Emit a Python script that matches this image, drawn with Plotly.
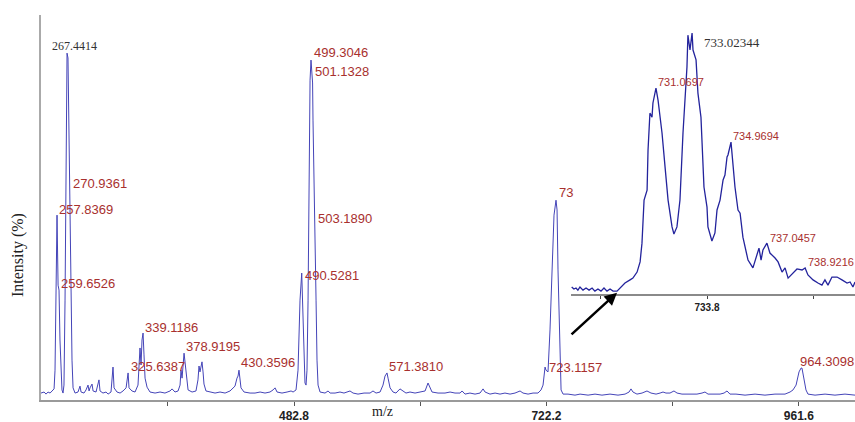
import plotly.graph_objects as go

# ---------------- main spectrum ----------------
main_mz = [242.8, 245.7, 247.6, 249.5, 251.4, 253.3, 255.2, 256.1, 257.1, 258.0, 259.0, 259.9, 260.8, 261.8,
           262.7, 263.7, 264.6, 265.6, 266.5, 267.5, 268.4, 269.4, 270.3, 271.3, 272.2, 273.2, 275.1, 277.9,
           279.8, 280.8, 283.6, 285.5, 287.4, 288.4, 289.3, 291.2, 292.2, 295.0, 297.8, 298.8, 301.6, 304.5,
           306.4, 309.2, 311.1, 312.1, 314.9, 317.8, 320.6, 323.5, 325.4, 326.3, 329.1, 332.0, 334.8, 336.7,
           337.7, 338.6, 339.6, 340.5, 341.5, 343.4, 346.2, 351.0, 355.7, 360.4, 365.2, 367.1, 369.9, 372.8,
           374.7, 375.6, 376.6, 378.5, 379.4, 380.4, 382.3, 386.1, 389.8, 391.7, 392.7, 393.6, 395.5, 396.5,
           397.4, 399.3, 403.1, 407.9, 412.6, 417.4, 422.1, 426.8, 428.7, 429.7, 430.6, 431.6, 432.5, 435.4,
           441.1, 445.8, 450.6, 455.3, 460.0, 462.9, 464.8, 466.7, 471.4, 476.2, 480.0, 481.9, 484.7, 486.6,
           488.5, 490.1, 491.3, 492.3, 493.2, 494.2, 495.1, 496.1, 497.0, 498.0, 498.9, 499.9, 500.4, 500.8,
           501.8, 502.7, 503.7, 504.6, 505.6, 507.5, 512.2, 515.1, 517.0, 521.7, 526.4, 530.2, 535.9, 538.8,
           543.5, 549.2, 554.9, 557.7, 560.6, 564.4, 567.2, 569.1, 571.0, 572.0, 573.9, 576.7, 579.5, 583.3,
           586.2, 589.0, 592.8, 597.6, 602.3, 607.1, 609.9, 611.8, 613.7, 619.4, 626.0, 630.8, 635.5, 640.3,
           642.2, 645.0, 649.7, 654.5, 659.2, 662.1, 664.0, 668.7, 673.5, 678.2, 682.9, 687.7, 692.4, 697.2,
           700.0, 704.8, 709.5, 714.2, 717.1, 719.0, 720.9, 721.8, 723.7, 725.6, 727.5, 729.4, 731.3, 732.3,
           733.2, 734.2, 735.1, 736.1, 738.0, 742.7, 749.3, 754.1, 761.7, 768.3, 774.9, 782.5, 790.1, 796.8,
           800.6, 802.4, 804.3, 808.1, 812.9, 817.6, 821.4, 826.2, 830.0, 832.8, 835.6, 839.4, 843.2, 846.1,
           850.8, 858.4, 865.0, 869.8, 872.6, 875.5, 881.2, 886.9, 890.7, 893.5, 896.3, 902.0, 910.6, 920.1,
           929.5, 939.0, 948.5, 953.3, 956.1, 959.0, 961.8, 963.7, 964.6, 966.5, 968.4, 970.3, 977.0, 986.5,
           995.9, 1005.4, 1014.9]
main_int = [2.0, 2.3, 1.7, 2.3, 2.0, 2.6, 3.2, 8.6, 28.8, 53.3, 33.1, 31.7, 17.3, 5.8,
            2.9, 2.0, 4.3, 28.8, 80.7, 100.0, 98.6, 72.0, 60.5, 31.7, 11.5, 3.5, 2.0, 2.3,
            4.0, 2.3, 2.0, 2.9, 4.3, 2.6, 3.5, 4.6, 2.6, 2.3, 5.8, 2.6, 2.0, 2.3,
            1.7, 2.3, 9.5, 3.5, 2.3, 2.0, 2.6, 3.5, 7.8, 3.5, 2.6, 2.3, 4.3, 15.0,
            10.1, 17.3, 19.3, 13.0, 6.3, 3.7, 2.3, 2.0, 2.3, 2.0, 2.6, 3.2, 2.3, 2.6,
            4.3, 8.6, 6.3, 13.5, 11.0, 6.6, 2.9, 2.3, 2.6, 5.8, 9.8, 8.1, 11.0, 8.1,
            4.6, 2.6, 2.3, 2.0, 2.3, 2.0, 2.6, 4.0, 6.3, 6.9, 8.6, 5.8, 3.5, 2.3,
            2.0, 2.0, 2.3, 2.0, 2.3, 2.9, 3.5, 2.3, 2.0, 2.3, 2.6, 2.3, 2.9, 8.6,
            28.8, 36.6, 25.9, 11.5, 4.9, 4.3, 8.6, 28.8, 72.0, 92.2, 98.0, 93.7, 91.4, 80.7,
            57.6, 49.0, 28.8, 11.5, 4.3, 2.3, 2.0, 2.6, 2.0, 2.0, 2.3, 2.0, 2.6, 2.0,
            1.7, 2.0, 2.0, 2.6, 2.0, 2.3, 4.3, 6.9, 7.8, 6.3, 3.5, 2.3, 2.0, 3.2,
            2.6, 2.0, 2.3, 2.0, 2.3, 2.6, 4.9, 3.5, 2.3, 2.0, 2.0, 2.3, 2.0, 2.0,
            2.6, 1.7, 2.0, 1.7, 2.0, 3.2, 2.3, 1.7, 2.0, 1.7, 2.0, 1.7, 2.0, 2.6,
            2.0, 1.7, 2.0, 2.0, 2.9, 4.3, 9.5, 8.6, 8.1, 20.2, 40.3, 53.3, 57.6, 54.8,
            37.5, 23.1, 8.6, 2.9, 1.7, 1.7, 1.4, 1.7, 1.4, 1.7, 1.4, 1.7, 1.4, 1.7,
            2.3, 3.2, 2.3, 1.7, 2.0, 2.6, 2.0, 1.7, 2.0, 2.3, 2.0, 2.0, 2.6, 2.0,
            1.7, 1.7, 1.7, 2.0, 2.3, 1.7, 1.7, 1.7, 2.0, 2.6, 1.7, 1.7, 1.4, 1.7,
            1.4, 1.7, 1.7, 2.3, 2.9, 4.3, 8.1, 9.2, 9.2, 6.3, 2.9, 1.7, 1.4, 1.7,
            1.4, 1.7, 1.4]

main_labels = ["267.4414", "270.9361", "257.8369", "259.6526", "339.1186", "325.6387", "378.9195",
               "430.3596", "499.3046", "501.1328", "503.1890", "490.5281", "571.3810", "73",
               "723.1157", "964.3098"]
main_label_mz = [251.4, 271.3, 258.0, 259.9, 339.6, 326.3, 378.5, 430.6, 499.9, 500.8, 503.7,
                 491.3, 571.0, 732.3, 722.8, 961.0]
main_label_int = [102.0, 62.5, 55.0, 33.7, 21.0, 9.8, 15.3, 10.7, 100.3, 94.8, 52.2, 36.0,
                  9.8, 59.9, 9.5, 11.2]

main_tickvals = [363.1, 482.8, 602.5, 722.2, 841.9, 961.6]
main_ticktext = ["", "<b>482.8</b>", "", "<b>722.2</b>", "", "<b>961.6</b>"]

# ---------------- inset (zoom on 733 cluster) ----------------
inset_mz = [726.64, 726.76, 726.87, 726.97, 727.08, 727.24, 727.40, 727.56, 727.72, 727.87, 728.03,
            728.19, 728.35, 728.51, 728.67, 728.83, 729.04, 729.20, 729.36, 729.46, 729.73, 729.88,
            730.10, 730.26, 730.36, 730.41, 730.47, 730.63, 730.68, 730.78, 730.89, 730.94, 731.10,
            731.21, 731.42, 731.58, 731.74, 731.95, 732.05, 732.21, 732.32, 732.37, 732.53, 732.64,
            732.74, 732.79, 732.90, 733.01, 733.06, 733.22, 733.32, 733.48, 733.54, 733.64, 733.80,
            733.85, 734.06, 734.22, 734.33, 734.49, 734.65, 734.75, 734.86, 734.91, 735.07, 735.18,
            735.28, 735.44, 735.55, 735.70, 735.97, 736.23, 736.45, 736.55, 736.66, 736.76, 736.97,
            737.13, 737.40, 737.56, 737.77, 737.93, 738.09, 738.35, 738.56, 738.83, 738.99, 739.14,
            739.41, 739.67, 739.88, 740.04, 740.20, 740.41, 740.68, 740.94, 741.21, 741.37, 741.52,
            741.63]
inset_int = [2.7, 1.9, 2.3, 1.5, 2.7, 1.5, 2.3, 1.5, 2.3, 1.1, 1.9,
             1.1, 2.3, 1.1, 1.9, 1.1, 1.1, 2.3, 3.4, 4.2, 5.4, 6.1,
             8.4, 12.3, 19.5, 28.4, 36.0, 39.8, 55.2, 69.3, 67.8, 73.2, 78.9,
             74.3, 61.7, 48.7, 36.0, 25.7, 23.0, 25.7, 33.3, 36.0, 61.7, 74.3,
             87.0, 99.2, 93.5, 100.0, 93.5, 89.7, 77.0, 67.8, 55.2, 41.0, 33.3,
             25.7, 20.3, 23.4, 32.2, 36.0, 43.7, 45.6, 52.5, 53.3, 58.2, 47.5,
             41.0, 32.2, 31.0, 21.8, 13.0, 10.0, 15.7, 17.6, 13.0, 16.9, 19.5,
             15.7, 13.8, 12.3, 8.4, 10.0, 6.1, 8.0, 9.6, 9.2, 10.0, 7.3,
             5.4, 4.2, 3.4, 5.4, 3.4, 6.5, 6.5, 5.4, 4.2, 4.6, 2.7,
             4.6]

inset_labels = ["731.0697", "733.02344", "734.9694", "737.0457", "738.9216"]
inset_label_mz = [731.10, 733.54, 735.07, 737.03, 739.04]
inset_label_int = [81.2, 96.2, 60.5, 21.5, 12.3]

inset_tickvals = [728.16, 733.8, 739.44]
inset_ticktext = ["", "<b>733.8</b>", ""]

LABEL_RED = "#a8302e"
SERIF = "Liberation Serif, Times New Roman, serif"
SANS = "Liberation Sans, Arial, sans-serif"

fig = go.Figure()
fig.add_trace(go.Scatter(x=main_mz, y=main_int, mode="lines",
                         line=dict(color="#4444b8", width=1), xaxis="x", yaxis="y",
                         showlegend=False, hoverinfo="skip"))
fig.add_trace(go.Scatter(x=inset_mz, y=inset_int, mode="lines",
                         line=dict(color="#23239c", width=1.3), xaxis="x2", yaxis="y2",
                         showlegend=False, hoverinfo="skip"))

annotations = []
for txt, mx, it in zip(main_labels, main_label_mz, main_label_int):
    serif = txt == "267.4414"
    annotations.append(dict(
        x=mx, y=it, xref="x", yref="y", text=txt, showarrow=False,
        xanchor="left", yanchor="middle",
        font=dict(family=SERIF if serif else SANS, size=12 if serif else 13,
                  color="#333333" if serif else LABEL_RED)))
for txt, mx, it in zip(inset_labels, inset_label_mz, inset_label_int):
    serif = txt == "733.02344"
    annotations.append(dict(
        x=mx, y=it, xref="x2", yref="y2", text=txt, showarrow=False,
        xanchor="left", yanchor="middle",
        font=dict(family=SERIF if serif else SANS, size=13 if serif else 11,
                  color="#333333" if serif else LABEL_RED)))

# arrow pointing at the inset baseline
annotations.append(dict(x=729.04, y=0.5, xref="x2", yref="y2", text="", showarrow=True,
                        arrowhead=2, arrowsize=1, arrowwidth=2.5, arrowcolor="black",
                        ax=-47, ay=43))
# y-axis title
annotations.append(dict(x=-0.028, y=0.377, xref="paper", yref="paper", text="Intensity (%)",
                        textangle=-90, showarrow=False, xanchor="center", yanchor="middle",
                        font=dict(family=SERIF, size=16, color="#222222")))
# x-axis title, kept inside the picture at its bottom edge
annotations.append(dict(x=0.42, y=-0.0545, xref="paper", yref="paper", text="m/z",
                        showarrow=False, xanchor="center", yanchor="bottom",
                        font=dict(family=SERIF, size=14, color="#222222")))

fig.update_layout(
    width=855, height=422,
    margin=dict(l=41, r=0, t=15, b=22),
    paper_bgcolor="white", plot_bgcolor="white",
    showlegend=False,
    xaxis=dict(range=[242.8, 1014.9], domain=[0, 1], showgrid=False, zeroline=False,
               showline=True, linecolor="#9a9a9a", linewidth=1.5,
               ticks="outside", ticklen=4, tickcolor="#555555", tickwidth=1,
               tickvals=main_tickvals, ticktext=main_ticktext,
               tickfont=dict(family=SANS, size=12, color="#222222")),
    yaxis=dict(range=[0, 111], domain=[0, 1], showgrid=False, zeroline=False,
               showline=True, linecolor="#aaaaaa", linewidth=2,
               showticklabels=False, ticks=""),
    xaxis2=dict(range=[726.6, 741.63], domain=[0.651, 1.0], anchor="y2",
                showgrid=False, zeroline=False, showline=True, linecolor="#8a8a8a", linewidth=2,
                ticks="outside", ticklen=3, tickcolor="#444444",
                tickvals=inset_tickvals, ticktext=inset_ticktext,
                tickfont=dict(family=SANS, size=10, color="#222222")),
    yaxis2=dict(range=[0, 105], domain=[0.2753, 0.987], anchor="x2", visible=False),
    annotations=annotations,
)

fig.write_html("out.html")
